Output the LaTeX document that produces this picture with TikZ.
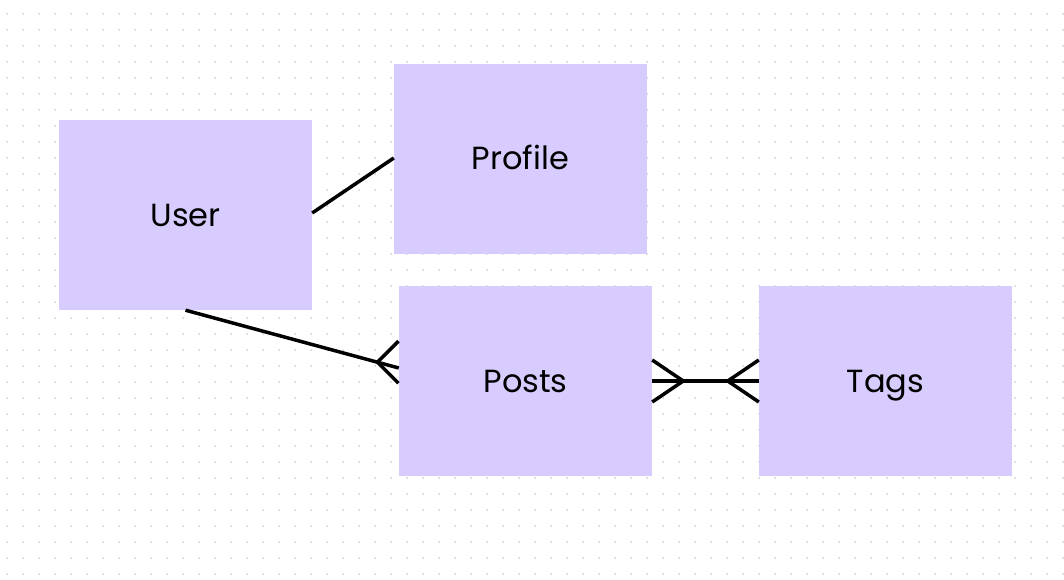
\documentclass[tikz,border=0pt]{standalone}
\usepackage{fontspec}
\setmainfont{Poppins}
\usetikzlibrary{calc}

\definecolor{boxfill}{RGB}{216,203,253}
\definecolor{griddot}{RGB}{204,208,218}

\tikzset{
	entity/.style={fill=boxfill, minimum width=253pt, minimum height=190pt,
		inner sep=0pt, text height=22pt, text depth=0pt,
		font=\fontsize{32}{36}\selectfont},
	rel/.style={line width=3.5pt, black}
}

\begin{document}
\begin{tikzpicture}[x=1pt, y=-1pt]
	\useasboundingbox (0,0) rectangle (1064,580);
	% dotted background
	\foreach \i in {0,...,66} {
		\foreach \j in {0,...,35} {
			\fill[griddot] (7+16*\i, 14+16*\j) circle (1pt);
		}
	}
	\node [entity] (User) at (185.5, 215) {User};
	\node [entity] (Profile) at (520.5, 159) {Profile};
	\node [entity] (Posts) at (525.5, 381) {Posts};
	\node [entity] (Tags) at (885.5, 381) {Tags};
	% one to one
	\draw [rel] ($(User.east)+(0,-2)$) -- ($(Profile.west)+(0,-1)$);
	% one to many
	\coordinate (UPend) at ($(Posts.west)+(0,-13)$);
	\coordinate (UPfoot) at ($(User.south)!0.9!(UPend)$);
	\draw [rel] (User.south) -- (UPend);
	\draw [rel] ($(UPfoot)+(21,-21)$) -- (UPfoot) -- ($(UPfoot)+(21,21)$);
	% many to many
	\draw [rel] (Posts.east) -- (Tags.west);
	\draw [rel] ($(Posts.east)+(0,-21)$) -- ($(Posts.east)+(31,0)$) -- ($(Posts.east)+(0,21)$);
	\draw [rel] ($(Tags.west)+(0,-21)$) -- ($(Tags.west)+(-31,0)$) -- ($(Tags.west)+(0,21)$);
\end{tikzpicture}
\end{document}
